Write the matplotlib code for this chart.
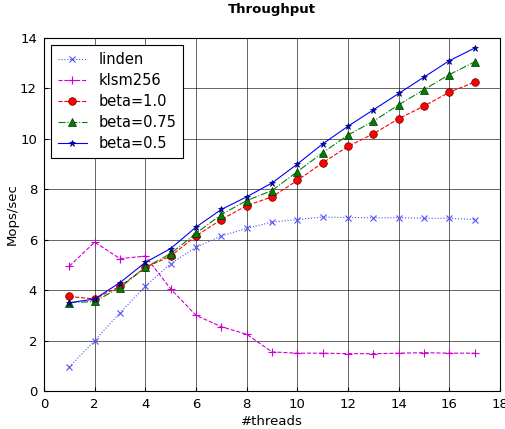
import matplotlib
matplotlib.use("Agg")
import matplotlib.pyplot as plt

threads = list(range(1, 18))
linden = [0.95, 2.0, 3.1, 4.15, 5.05, 5.7, 6.15, 6.45, 6.7, 6.8, 6.9, 6.88, 6.87, 6.87, 6.85, 6.85, 6.8]
klsm256 = [4.95, 5.9, 5.25, 5.35, 4.05, 3.0, 2.55, 2.25, 1.55, 1.5, 1.5, 1.48, 1.48, 1.5, 1.52, 1.5, 1.5]
beta10 = [3.75, 3.65, 4.15, 4.9, 5.35, 6.15, 6.8, 7.35, 7.7, 8.35, 9.05, 9.7, 10.2, 10.8, 11.3, 11.85, 12.25]
beta075 = [3.5, 3.55, 4.1, 4.9, 5.45, 6.25, 7.0, 7.55, 7.95, 8.7, 9.45, 10.15, 10.7, 11.35, 11.95, 12.55, 13.05]
beta05 = [3.5, 3.65, 4.3, 5.1, 5.65, 6.5, 7.2, 7.7, 8.25, 9.0, 9.8, 10.5, 11.15, 11.8, 12.45, 13.1, 13.6]

fig = plt.figure(figsize=(5.06, 4.29), dpi=100)
ax = fig.add_axes([44 / 506, 1 - 391 / 429, 456 / 506, 353 / 429])

lw = 0.8
ax.plot(threads, linden, 'x:', color='#5050ff', lw=lw, markersize=5, mew=0.8, label='linden')
ax.plot(threads, klsm256, '+--', color='#cc00cc', lw=lw, markersize=6, mew=0.8, label='klsm256')
ax.plot(threads, beta10, 'o--', color='red', markeredgecolor='#600000', mew=0.5, lw=lw, markersize=5.5, label='beta=1.0')
ax.plot(threads, beta075, '^-.', color='green', markeredgecolor='#003000', mew=0.5, lw=lw, markersize=5.5, label='beta=0.75')
ax.plot(threads, beta05, '*-', color='blue', markeredgecolor='#000060', mew=0.5, lw=lw, markersize=5, label='beta=0.5')

ax.set_xlim(0, 18)
ax.set_ylim(0, 14)
ax.set_xticks(range(0, 19, 2))
ax.set_yticks(range(0, 15, 2))
ax.grid(True, color='black', linestyle='-', linewidth=0.6, alpha=0.7)
ax.tick_params(labelsize=9.5, pad=5, direction='in', length=3)
ax.set_xlabel('#threads', fontsize=9.5, labelpad=3)
ax.set_ylabel('Mops/sec', fontsize=9.5, labelpad=1)
ax.set_title('Throughput', fontsize=9.5, fontweight='bold', pad=18)

leg = ax.legend(loc='upper left', fontsize=10.5, fancybox=False, framealpha=1,
                edgecolor='black', handlelength=2.0, borderpad=0.45, labelspacing=0.42,
                handletextpad=0.8)
leg.get_frame().set_linewidth(0.8)

fig.savefig('out.png', dpi=100)
